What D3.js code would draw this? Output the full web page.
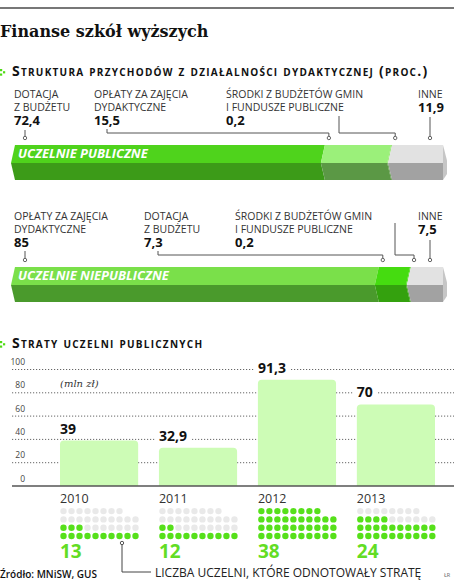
<!doctype html>
<html lang="pl">
<head>
<meta charset="UTF-8">
<title>Finanse szkół wyższych</title>
<style>
  body { margin: 0; background: #fff; }
  svg { display: block; font-family: "Open Sans", sans-serif; }
</style>
</head>
<body>
<div class="canvas"></div>
<script src="https://cdnjs.cloudflare.com/ajax/libs/d3/7.8.5/d3.min.js"></script>
<script>
    // ---- data ----
    const publicSources = ['DOTACJA|Z BUDŻETU', 'OPŁATY ZA ZAJĘCIA|DYDAKTYCZNE', 'ŚRODKI Z BUDŻETÓW GMIN|I FUNDUSZE PUBLICZNE', 'INNE'];
    const publicShares = [72.4, 15.5, 0.2, 11.9];
    const privateSources = ['OPŁATY ZA ZAJĘCIA|DYDAKTYCZNE', 'DOTACJA|Z BUDŻETU', 'ŚRODKI Z BUDŻETÓW GMIN|I FUNDUSZE PUBLICZNE', 'INNE'];
    const privateShares = [85, 7.3, 0.2, 7.5];

    const years = ['2010', '2011', '2012', '2013'];
    const losses = [39, 32.9, 91.3, 70];
    const lossCounts = [13, 12, 38, 24];
    const yTicks = [0, 20, 40, 60, 80, 100];
    const dotRows = [10, 10, 10, 8];   // bottom -> top

    const fmt = v => String(v).replace('.', ',');

    const width = 454, height = 588;
    const svg = d3.select('.canvas').append('svg')
        .attr('width', width)
        .attr('height', height);

    // top rule + title
    svg.append('line')
        .attr('x1', 0).attr('x2', width).attr('y1', 8).attr('y2', 8)
        .attr('stroke', '#777').attr('stroke-width', 2);
    svg.append('text')
        .attr('x', 0).attr('y', 37)
        .attr('font-family', '"DejaVu Serif", serif')
        .attr('font-weight', 'bold')
        .attr('font-size', 16)
        .attr('fill', '#111')
        .text('Finanse szkół wyższych');

    const header = (y, label) => {
        const g = svg.append('g');
        [[1, y - 6], [1, y - 1.5], [4, y - 3.8]].forEach(p => {
            g.append('rect').attr('x', p[0] - 1).attr('y', p[1] - 1)
                .attr('width', 2.2).attr('height', 2.2).attr('fill', '#4fdc14');
        });
        g.append('text')
            .attr('x', 12).attr('y', y)
            .attr('font-weight', 'bold')
            .attr('font-size', 14)
            .attr('letter-spacing', 1.25)
            .attr('font-variant', 'small-caps')
            .attr('fill', '#111')
            .text(label);
    };

    header(76, 'Struktura przychodów z działalności dydaktycznej (proc.)');

    // ---- stacked 3D bars ----
    const x = d3.scaleLinear().domain([0, 100]).range([15, 443]);

    const drawStruct = (names, values, o) => {
        const g = svg.append('g');
        const starts = d3.cumsum([0, ...values]);
        const y0 = o.top, ym = o.top + 18, y1 = o.top + 35;

        // labels
        names.forEach((n, i) => {
            const lines = n.split('|');
            lines.forEach((l, j) => {
                g.append('text')
                    .attr('x', o.labelX[i]).attr('y', o.labelY + j * 13)
                    .attr('font-size', 10.5).attr('fill', '#333')
                    .text(l);
            });
            g.append('text')
                .attr('x', o.labelX[i]).attr('y', o.labelY + lines.length * 13 + 1)
                .attr('font-size', 13).attr('font-weight', 'bold').attr('fill', '#111')
                .text(fmt(values[i]));
        });

        // segments
        values.forEach((v, i) => {
            const xs = x(starts[i]), xe = x(starts[i + 1]);
            const last = i === values.length - 1;
            const d = 4;
            g.append('path')
                .attr('d', `M${xs},${y0}L${xe},${y0}L${last ? xe : xe - d},${ym}L${xs - d},${ym}Z`)
                .attr('fill', o.topColors[i]);
            g.append('path')
                .attr('d', `M${xs - d},${ym}L${last ? xe : xe - d},${ym}L${xe},${y1}L${xs},${y1}Z`)
                .attr('fill', o.sideColors[i]);
            if (last) {
                g.append('path')
                    .attr('d', `M${xe},${y0}L${xe + d},${(y0 + y1) / 2 - 2}L${xe + d},${y1 - 6}L${xe},${y1}Z`)
                    .attr('fill', '#c6c6c6');
            }
        });

        g.append('text')
            .attr('x', 18).attr('y', y0 + 13)
            .attr('font-size', 13).attr('font-weight', 'bold').attr('font-style', 'italic')
            .attr('fill', '#fff')
            .text(o.title);

        // leaders
        const cy = y0 - 7, ey = y0 - 12;
        o.leaders.forEach((s, i) => {
            let pts;
            if (i === 0 || i === values.length - 1) {
                pts = [[s[0], s[1]], [s[0], cy]];
            } else {
                const tx = x(starts[i]) + 4;
                pts = [[s[0], s[1]], [s[0], ey], [tx, ey], [tx, cy]];
            }
            g.append('path')
                .attr('d', d3.line()(pts))
                .attr('fill', 'none').attr('stroke', '#555').attr('stroke-width', 1);
            g.append('circle')
                .attr('cx', pts[pts.length - 1][0]).attr('cy', cy).attr('r', 1.7)
                .attr('fill', '#fff').attr('stroke', '#555').attr('stroke-width', 0.9);
        });
    };

    drawStruct(publicSources, publicShares, {
        top: 145, labelY: 98, title: 'UCZELNIE PUBLICZNE',
        labelX: [14, 94, 226, 418],
        leaders: [[25, 130], [107, 129], [339, 116], [430, 117]],
        topColors: ['#4fd31c', '#9bf07a', '#8ee866', '#e2e2e2'],
        sideColors: ['#3c9b18', '#5b9845', '#5b9845', '#a2a2a2']
    });
    drawStruct(privateSources, privateShares, {
        top: 267, labelY: 220, title: 'UCZELNIE NIEPUBLICZNE',
        labelX: [14, 144, 235, 418],
        leaders: [[25, 251], [158, 251], [395, 223], [430, 240]],
        topColors: ['#7ae04a', '#45dc10', '#45dc10', '#e2e2e2'],
        sideColors: ['#4a9a2c', '#34a10e', '#34a10e', '#a2a2a2']
    });

    // ---- losses bar chart ----
    header(348, 'Straty uczelni publicznych');

    const y = d3.scaleLinear().domain([0, 100]).range([486, 369.5]);
    const xb = d3.scaleBand().domain(years).range([60, 435]).paddingInner(0.21);

    const grid = svg.append('g');
    yTicks.filter(t => t > 0).forEach(t => {
        grid.append('line')
            .attr('x1', 12).attr('x2', width).attr('y1', y(t)).attr('y2', y(t))
            .attr('stroke', '#666').attr('stroke-dasharray', '1.2,1.8');
    });
    const yAxis = d3.axisLeft(y).tickValues(yTicks).tickSize(0).tickPadding(0);
    const ya = svg.append('g').attr('transform', 'translate(25,-5)').call(yAxis);
    ya.select('.domain').remove();
    ya.selectAll('text')
        .attr('font-family', '"Open Sans", sans-serif')
        .attr('font-size', 8.5).attr('fill', '#444').attr('dy', 0);

    svg.append('text')
        .attr('x', 60).attr('y', 387)
        .attr('font-family', '"DejaVu Serif", serif')
        .attr('font-style', 'italic')
        .attr('font-size', 10).attr('fill', '#333')
        .text('(mln zł)');

    const r = 4;
    const barPath = (x0, w, yt, yb) =>
        `M${x0},${yb}V${yt + r}Q${x0},${yt} ${x0 + r},${yt}H${x0 + w - r}Q${x0 + w},${yt} ${x0 + w},${yt + r}V${yb}Z`;

    svg.append('g').selectAll('path')
        .data(years)
        .join('path')
        .attr('d', (d, i) => barPath(xb(d), xb.bandwidth(), y(losses[i]), y(0)))
        .attr('fill', '#cdfcb6');

    svg.append('line')
        .attr('x1', 12).attr('x2', width).attr('y1', y(0)).attr('y2', y(0))
        .attr('stroke', '#555').attr('stroke-width', 1.5);

    const vl = svg.append('g').selectAll('g')
        .data(years)
        .join('g');
    vl.append('rect');
    vl.append('text')
        .attr('x', d => xb(d))
        .attr('y', (d, i) => y(losses[i]) - 7)
        .attr('font-size', 14).attr('font-weight', 'bold').attr('fill', '#111')
        .text((d, i) => fmt(losses[i]));
    vl.each(function () {
        const b = d3.select(this).select('text').node().getBBox();
        d3.select(this).select('rect')
            .attr('x', b.x - 4).attr('y', b.y).attr('width', b.width + 8).attr('height', b.height)
            .attr('fill', '#fff');
    });

    // years
    svg.append('g').selectAll('text')
        .data(years)
        .join('text')
        .attr('x', d => xb(d)).attr('y', 503)
        .attr('font-size', 12.5).attr('fill', '#333')
        .text(d => d);

    // dot grids
    const cells = [];
    dotRows.forEach((n, row) => {
        for (let c = 0; c < n; c++) cells.push({ row, c });
    });
    years.forEach((yr, i) => {
        svg.append('g').selectAll('circle')
            .data(cells)
            .join('circle')
            .attr('cx', d => xb(yr) + 3.5 + d.c * 8)
            .attr('cy', d => 536 - d.row * 8.3)
            .attr('r', 3.2)
            .attr('fill', (d, k) => k < lossCounts[i] ? '#56e01a' : '#e9e9e9');
    });

    svg.append('g').selectAll('text')
        .data(years)
        .join('text')
        .attr('x', d => xb(d)).attr('y', 558)
        .attr('font-size', 19).attr('font-weight', 'bold').attr('fill', '#62dd24')
        .text((d, i) => lossCounts[i]);

    // leader for counts
    const lx = xb(years[0]) + 62;
    svg.append('path')
        .attr('d', d3.line()([[lx, 543], [lx, 572], [151, 572]]))
        .attr('fill', 'none').attr('stroke', '#444').attr('stroke-width', 1);
    svg.append('circle')
        .attr('cx', lx).attr('cy', 543).attr('r', 1.7)
        .attr('fill', '#fff').attr('stroke', '#444').attr('stroke-width', 0.9);
    svg.append('text')
        .attr('x', 155).attr('y', 577)
        .attr('font-size', 12).attr('fill', '#222')
        .text('LICZBA UCZELNI, KTÓRE ODNOTOWAŁY STRATĘ');

    svg.append('text')
        .attr('x', 0).attr('y', 578)
        .attr('font-size', 10).attr('font-weight', 600).attr('fill', '#111')
        .text('Źródło: MNiSW, GUS');
    svg.append('text')
        .attr('x', 444).attr('y', 577)
        .attr('font-size', 5.5).attr('fill', '#666')
        .text('ŁR');
</script>
</body>
</html>
